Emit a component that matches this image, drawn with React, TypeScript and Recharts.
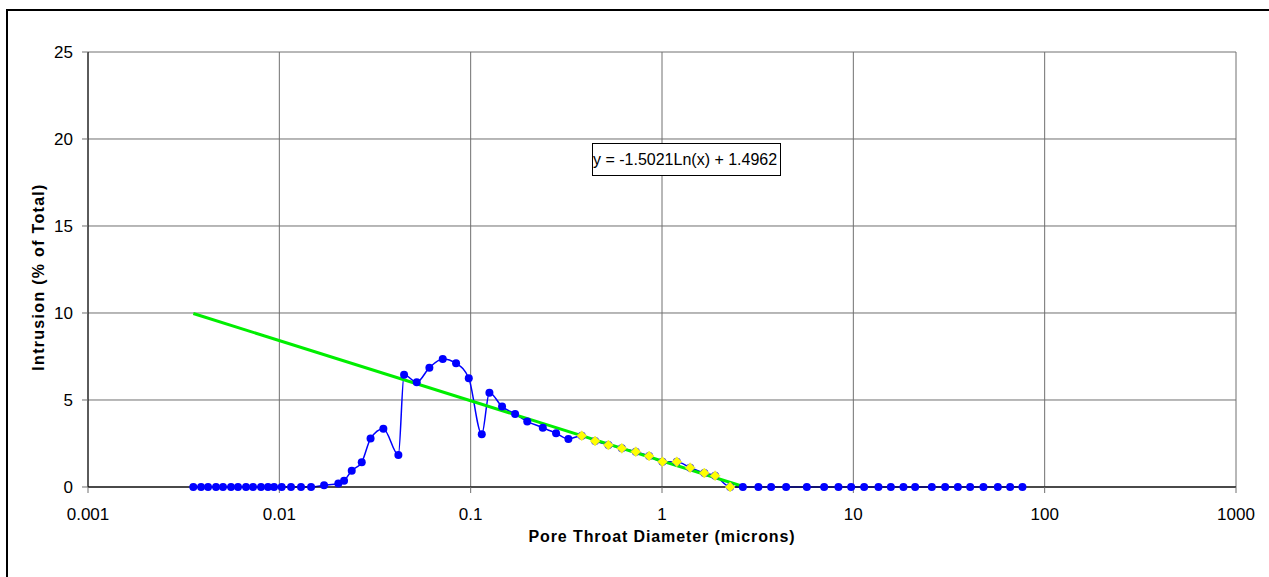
import React from 'react'
import { ComposedChart, Line, XAxis, YAxis, CartesianGrid } from 'recharts'

// pore throat diameter (microns) and incremental intrusion (% of total)
const diameters = [
  0.003552, 0.003898, 0.00424, 0.004668, 0.005078, 0.005591, 0.006082, 0.006697, 0.007287, 0.008023,
  0.008728, 0.009383, 0.01029, 0.01151, 0.01298, 0.01465, 0.01713, 0.02034, 0.02179, 0.0239,
  0.02696, 0.02998, 0.03497, 0.04189, 0.04487, 0.05226, 0.06084, 0.07147, 0.08389, 0.09775,
  0.1143, 0.1253, 0.1459, 0.1707, 0.1976, 0.2382, 0.2795, 0.3242, 0.3808, 0.447,
  0.5246, 0.6164, 0.7295, 0.8562, 1.005, 1.195, 1.403, 1.664, 1.895, 2.27,
  2.646, 3.19, 3.718, 4.454, 5.714, 7.038, 8.359, 9.739, 11.39, 13.53,
  15.71, 18.28, 21.04, 25.72, 30.19, 35.18, 40.79, 47.86, 56.92, 66.01, 76.53,
]
const intrusion = [
  0, 0, 0, 0, 0, 0, 0, 0, 0, 0,
  0, 0, 0, 0, 0, 0, 0.1, 0.2, 0.36, 0.94,
  1.42, 2.78, 3.35, 1.84, 6.45, 6.02, 6.86, 7.36, 7.11, 6.25,
  3.03, 5.42, 4.62, 4.2, 3.77, 3.41, 3.09, 2.76, 2.95, 2.64,
  2.41, 2.22, 2.03, 1.78, 1.45, 1.45, 1.11, 0.8, 0.65, 0,
  0, 0, 0, 0, 0, 0, 0, 0, 0, 0,
  0, 0, 0, 0, 0, 0, 0, 0, 0, 0, 0,
]
// points used for the fit (yellow markers)
const fitStart = 38
const fitEnd = 50

// log trendline shown on the chart
const trendSlope = -1.5021
const trendIntercept = 1.4962
const trendRange = [0.003552, 2.708]

const xTicks = [0.001, 0.01, 0.1, 1, 10, 100, 1000]
const yTicks = [0, 5, 10, 15, 20, 25]

const font = 'Arial, "Liberation Sans", sans-serif'

const mainData = diameters.map((x, i) => ({ x, y: intrusion[i] }))
const fitData = mainData.slice(fitStart, fitEnd)
const trendData = trendRange.map((x) => ({ x, y: trendSlope * Math.log(x) + trendIntercept }))

const Diamond = (props: any) => {
  const { cx, cy, index } = props
  if (cx == null || cy == null) return <g key={`d-${index}`} />
  return (
    <path
      key={`d-${index}`}
      d={`M${cx},${cy - 5}L${cx + 5},${cy}L${cx},${cy + 5}L${cx - 5},${cy}Z`}
      fill="#FFFF00"
      stroke="#d8d860"
      strokeWidth={0.5}
    />
  )
}

export default function App() {
  return (
    <div style={{ position: 'absolute', left: 0, top: 0, width: 1269, height: 577, overflow: 'hidden', background: '#fff' }}>
      <div
        style={{
          position: 'absolute',
          left: 6,
          top: 9,
          width: 1300,
          height: 600,
          borderLeft: '2px solid #000',
          borderTop: '2px solid #000',
        }}
      />
      <div style={{ position: 'absolute', left: 0, top: 0 }}>
        <ComposedChart width={1269} height={577} margin={{ top: 52, right: 33, bottom: 0, left: 0 }}>
          <CartesianGrid stroke="#707070" strokeWidth={1} />
          <XAxis
            type="number"
            dataKey="x"
            scale="log"
            domain={[0.001, 1000]}
            ticks={xTicks}
            allowDataOverflow
            height={90}
            tickSize={6}
            tickMargin={15}
            tickFormatter={(v: number) => String(v)}
            tick={{ fill: '#000', fontSize: 17, fontFamily: font }}
            axisLine={{ stroke: '#000' }}
            tickLine={{ stroke: '#707070' }}
            label={{
              content: () => (
                <text
                  x={662}
                  y={542}
                  textAnchor="middle"
                  fontFamily={font}
                  fontSize={16}
                  fontWeight="bold"
                  letterSpacing={0.9}
                  fill="#000"
                >
                  Pore Throat Diameter (microns)
                </text>
              ),
            }}
          />
          <YAxis
            type="number"
            domain={[0, 25]}
            ticks={yTicks}
            width={88}
            tickSize={6}
            tickMargin={9}
            tick={{ fill: '#000', fontSize: 17, fontFamily: font }}
            axisLine={{ stroke: '#000' }}
            tickLine={{ stroke: '#707070' }}
            label={{
              content: () => (
                <text
                  x={44}
                  y={277}
                  transform="rotate(-90 44 277)"
                  textAnchor="middle"
                  fontFamily={font}
                  fontSize={16}
                  fontWeight="bold"
                  letterSpacing={1.3}
                  fill="#000"
                >
                  Intrusion (% of Total)
                </text>
              ),
            }}
          />
          <Line
            data={mainData}
            dataKey="y"
            type="monotone"
            stroke="#0000FF"
            strokeWidth={1.5}
            dot={{ r: 4, fill: '#0000FF', stroke: '#0000FF', strokeWidth: 0 }}
            isAnimationActive={false}
          />
          <Line
            data={fitData}
            dataKey="y"
            stroke="none"
            dot={Diamond}
            isAnimationActive={false}
          />
          <Line
            data={trendData}
            dataKey="y"
            type="linear"
            stroke="#00EE00"
            strokeWidth={3}
            dot={false}
            isAnimationActive={false}
          />
        </ComposedChart>
      </div>
      <div
        style={{
          position: 'absolute',
          left: 592,
          top: 143,
          width: 187,
          height: 31,
          border: '1px solid #000',
          background: '#fff',
          fontFamily: font,
          fontSize: 16,
          lineHeight: '31px',
          whiteSpace: 'nowrap',
          color: '#000',
        }}
      >
        y = -1.5021Ln(x) + 1.4962
      </div>
    </div>
  )
}
